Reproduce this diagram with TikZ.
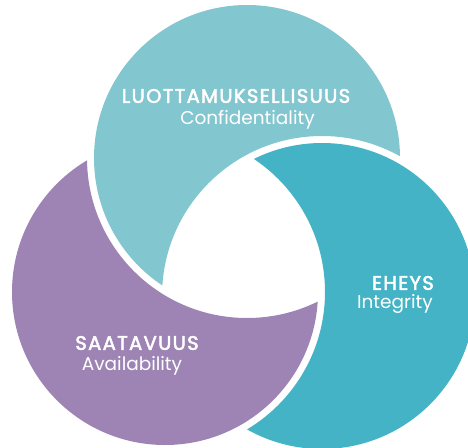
\documentclass[tikz,border=0pt]{standalone}
\usepackage{fontspec}
\setmainfont{Poppins}
\definecolor{cLight}{RGB}{130,198,207}
\definecolor{cTeal}{RGB}{67,179,197}
\definecolor{cPurple}{RGB}{158,132,180}
\begin{document}
\begin{tikzpicture}[x=1pt,y=-1pt,
  head/.style={text=white,inner sep=0pt,font=\fontsize{19.5}{21}\selectfont\addfontfeature{LetterSpace=7,FakeBold=2.5}},
  sub/.style={text=white,inner sep=0pt,font=\fontsize{18.5}{20}\selectfont}]
\useasboundingbox (0,0) rectangle (468,447);
\def\R{153pt}\def\RG{160pt}
\coordinate (A) at (247,158);
\coordinate (B) at (322,296);
\coordinate (C) at (165,292);
% top shape: A minus (B+gap)
\begin{scope}
  \clip (A) circle[radius=\R];
  \fill[cLight,even odd rule] (-100,-100) rectangle (600,600) (B) circle[radius=\RG];
\end{scope}
% right shape: B minus (C+gap)
\begin{scope}
  \clip (B) circle[radius=\R];
  \fill[cTeal,even odd rule] (-100,-100) rectangle (600,600) (C) circle[radius=\RG];
\end{scope}
% left shape: C minus (A+gap)
\begin{scope}
  \clip (C) circle[radius=\R];
  \fill[cPurple,even odd rule] (-100,-100) rectangle (600,600) (A) circle[radius=\RG];
\end{scope}
\node[head] (tA) at (236,96) {LUOTTAMUKSELLISUUS};
\node[sub] (sA) at (247.5,120) {Confidentiality};
\node[head,anchor=east] (tB) at (434,283) {EHEYS};
\node[sub,anchor=east] (sB) at (433,304) {Integrity};
\node[head] (tC) at (137,343) {SAATAVUUS};
\node[sub] (sC) at (132,366) {Availability};
\end{tikzpicture}
\end{document}
